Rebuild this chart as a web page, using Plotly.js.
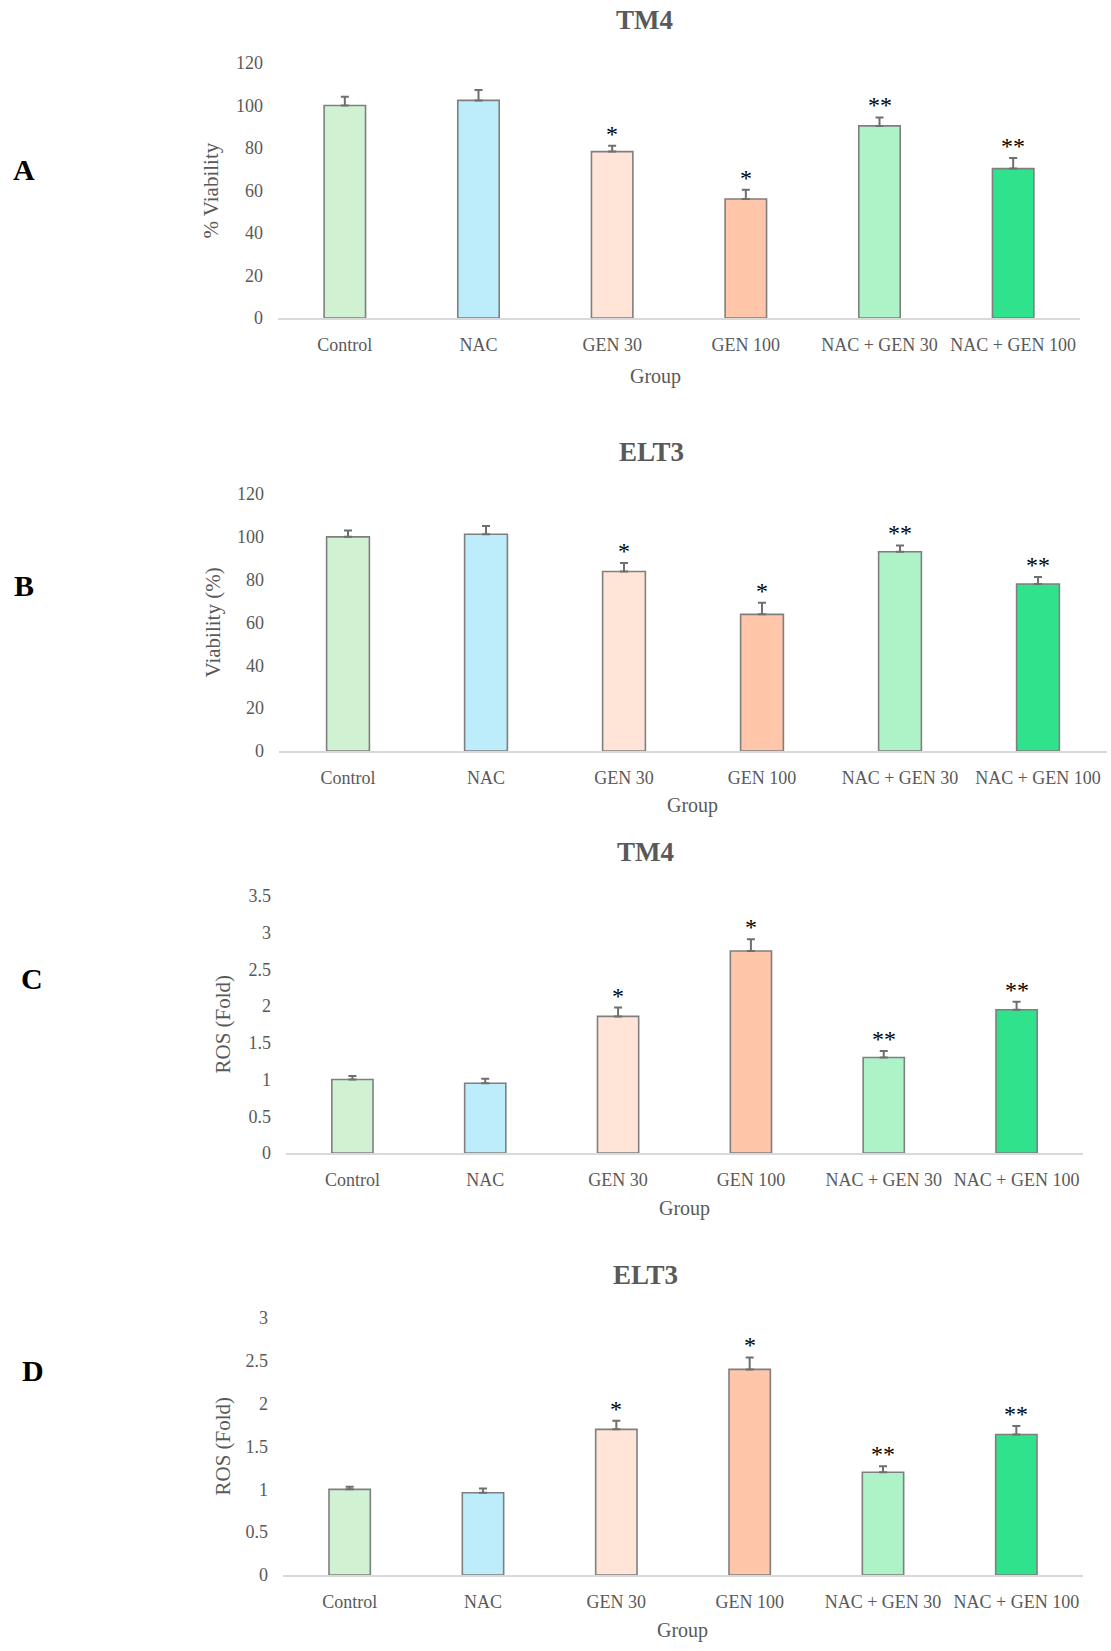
<!DOCTYPE html>
<html>
<head>
<meta charset="utf-8">
<script src="https://cdn.plot.ly/plotly-3.0.1.min.js"></script>
<style>
  body { margin: 0; background: #fff; }
  #chart { width: 1111px; height: 1651px; }
</style>
</head>
<body>
<div id="chart"></div>
<script>
// groups on the x axis
var groups = ["Control", "NAC", "GEN 30", "GEN 100", "NAC + GEN 30", "NAC + GEN 100"];
var barColors = ["#d0f2d3", "#bdedfb", "#ffe4d7", "#ffc6aa", "#aef2c8", "#30e28b"];
var signif = ["", "", "*", "*", "**", "**"];
var noMinus = [0, 0, 0, 0, 0, 0];

// A: TM4 viability
var viabTM4 = [100, 102.4, 78.3, 56, 90.4, 70.3];
var viabTM4Err = [4.1, 4.9, 2.8, 4.3, 4.0, 5.0];
// B: ELT3 viability
var viabELT3 = [100, 101.2, 83.8, 63.8, 93.0, 78.0];
var viabELT3Err = [3.0, 3.9, 4.0, 5.4, 3.0, 3.3];
// C: TM4 ROS
var rosTM4 = [1.0, 0.95, 1.86, 2.75, 1.30, 1.95];
var rosTM4Err = [0.05, 0.06, 0.12, 0.16, 0.09, 0.11];
// D: ELT3 ROS
var rosELT3 = [1.0, 0.96, 1.70, 2.40, 1.20, 1.64];
var rosELT3Err = [0.03, 0.05, 0.10, 0.14, 0.07, 0.10];

var W = 1111, H = 1651;
var serif = "Liberation Serif, DejaVu Serif, serif";
var grey = "#595959";

// px helpers for paper coords
function px(x) { return x / W; }
function py(y) { return 1 - y / H; }

var panels = [
  { vals: viabTM4, err: viabTM4Err, title: "TM4", ylab: "% Viability", letter: "A",
    x0: 278, x1: 1080, yTop: 63, yBot: 318, range: [0, 120], dtick: 20,
    titleX: 644, titleY: 20, groupX: 655, groupY: 376, ylabX: 210, letterX: 24, letterY: 169 },
  { vals: viabELT3, err: viabELT3Err, title: "ELT3", ylab: "Viability (%)", letter: "B",
    x0: 279, x1: 1107, yTop: 494, yBot: 751, range: [0, 120], dtick: 20,
    titleX: 652, titleY: 452, groupX: 692, groupY: 805, ylabX: 213, letterX: 24, letterY: 585 },
  { vals: rosTM4, err: rosTM4Err, title: "TM4", ylab: "ROS (Fold)", letter: "C",
    x0: 286, x1: 1083, yTop: 896, yBot: 1153, range: [0, 3.5], dtick: 0.5,
    titleX: 645, titleY: 852, groupX: 684, groupY: 1208, ylabX: 222, letterX: 32, letterY: 978 },
  { vals: rosELT3, err: rosELT3Err, title: "ELT3", ylab: "ROS (Fold)", letter: "D",
    x0: 283, x1: 1083, yTop: 1318, yBot: 1575, range: [0, 3], dtick: 0.5,
    titleX: 645, titleY: 1275, groupX: 682, groupY: 1630, ylabX: 222, letterX: 33, letterY: 1370 }
];

var data = [];
var layout = {
  width: W, height: H,
  margin: { l: 0, r: 0, t: 0, b: 0 },
  paper_bgcolor: "#fff", plot_bgcolor: "#fff",
  showlegend: false,
  bargap: 0.69,
  font: { family: serif, color: grey },
  annotations: []
};

function paperLabel(x, y, text, size, color, angle) {
  return {
    xref: "paper", yref: "paper", x: px(x), y: py(y),
    xanchor: "center", yanchor: "middle",
    text: text, textangle: angle || 0, showarrow: false,
    font: { family: serif, size: size, color: color }
  };
}

panels.forEach(function (p, k) {
  var n = k === 0 ? "" : String(k + 1);
  data.push({
    type: "bar",
    x: groups,
    y: p.vals,
    xaxis: "x" + n,
    yaxis: "y" + n,
    marker: { color: barColors, line: { color: "#7f7f7f", width: 1.6 } },
    error_y: { type: "data", symmetric: false, array: p.err, arrayminus: noMinus,
               color: "#6f6f6f", thickness: 2, width: 4 },
    hoverinfo: "x+y"
  });

  layout["xaxis" + n] = {
    domain: [px(p.x0), px(p.x1)],
    anchor: "y" + n,
    showline: true, linecolor: "#d9d9d9", linewidth: 2,
    ticks: "", showgrid: false, zeroline: false,
    tickfont: { family: serif, size: 18, color: grey },
    ticklabelstandoff: 9
  };
  layout["yaxis" + n] = {
    domain: [py(p.yBot), py(p.yTop)],
    anchor: "x" + n,
    range: p.range, dtick: p.dtick,
    showgrid: false, zeroline: false, showline: false, ticks: "",
    tickfont: { family: serif, size: 18, color: grey },
    ticklabelstandoff: 14
  };

  layout.annotations.push(paperLabel(p.titleX, p.titleY, "<b>" + p.title + "</b>", 27, grey));
  layout.annotations.push(paperLabel(p.groupX, p.groupY, "Group", 20, grey));
  layout.annotations.push(paperLabel(p.ylabX, (p.yTop + p.yBot) / 2, p.ylab, 21, grey, -90));
  layout.annotations.push(paperLabel(p.letterX, p.letterY, "<b>" + p.letter + "</b>", 30, "#000"));

  // significance stars
  groups.forEach(function (g, i) {
    if (!signif[i]) return;
    layout.annotations.push({
      xref: "x" + n, yref: "y" + n, x: g, y: p.vals[i] + p.err[i],
      text: signif[i], showarrow: false, yanchor: "middle", yshift: 12,
      font: { family: serif, size: 24, color: "#000" }
    });
  });
});

Plotly.newPlot("chart", data, layout, { staticPlot: true });
</script>
</body>
</html>
